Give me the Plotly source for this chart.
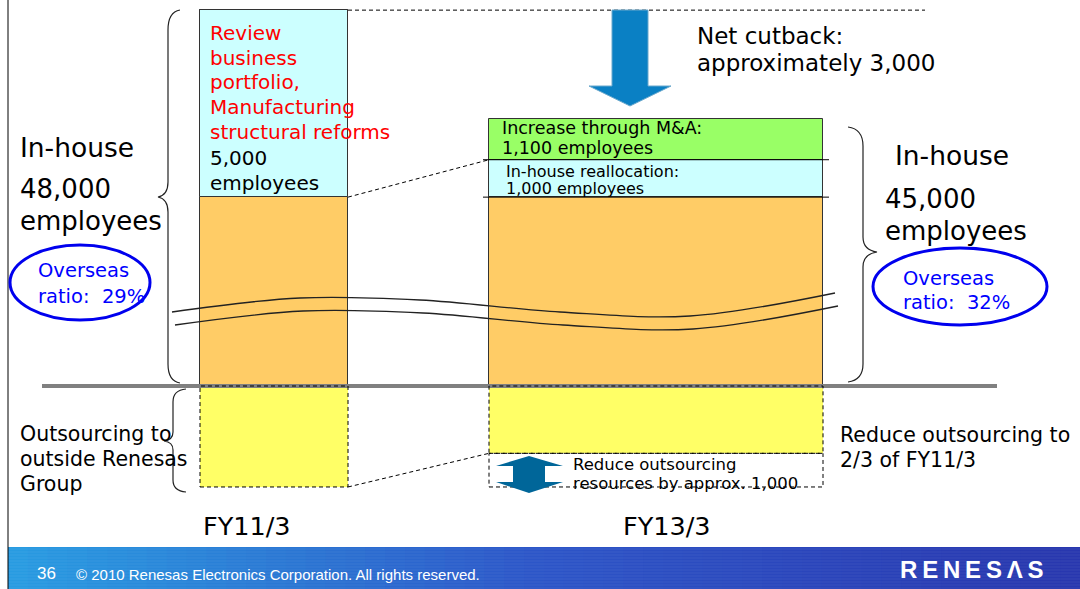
import plotly.graph_objects as go

# ---------------- data ----------------
categories = ["FY11/3", "FY13/3"]
inhouse_total = [48000, 45000]
retained = [43000, 43000]
portfolio_reform_cut = [5000, 0]
inhouse_reallocation = [0, 1000]
ma_increase = [0, 1100]
outsourcing = [2700, 1800]
outsourcing_cut = [0, 900]
overseas_ratio = [29, 32]
net_cutback = 3000

# ---------------- layout constants ----------------
W, H = 1080, 589
AXIS_BREAK = 37950          # employees hidden in the broken axis (wavy lines)
PX_PER_EMP = 0.0374         # vertical scale of the employee axis
BASE_PX = 386               # pixel row of the zero line
bar_centers = [274, 656]
bar_widths = [148, 334]
FONT = "DejaVu Sans"
DASH = "4px,3px"

C_ORANGE = "#FFCC66"
C_CYAN = "#CCFFFF"
C_GREEN = "#99FF66"
C_YELLOW = "#FFFF66"

y2_range = [-(H - BASE_PX) / PX_PER_EMP, BASE_PX / PX_PER_EMP]
def px_to_y2(py):
    return (BASE_PX - py) / PX_PER_EMP

retained_disp = [r - AXIS_BREAK for r in retained]
cyan_vals = [a + b for a, b in zip(portfolio_reform_cut, inhouse_reallocation)]
cyan_base = retained_disp
green_base = [a + b for a, b in zip(retained_disp, cyan_vals)]
tops = [a + b for a, b in zip(green_base, ma_increase)]

fig = go.Figure()

def bar(vals, base, color, line_color="black", lw=1):
    fig.add_trace(go.Bar(
        x=bar_centers, y=vals, base=base, width=bar_widths,
        marker=dict(color=color, line=dict(color=line_color, width=lw)),
        yaxis="y2", xaxis="x", showlegend=False, hoverinfo="skip"))

bar(retained_disp, [0, 0], C_ORANGE, "#333333", 1)
bar(cyan_vals, cyan_base, C_CYAN, "#333333", 1)
bar(ma_increase, green_base, C_GREEN, "#333333", 1)
bar(outsourcing, [-v for v in outsourcing], C_YELLOW, C_YELLOW, 0)

# wavy axis-break lines (decoration), drawn above the bars
wx = [172, 300, 420, 560, 690, 835]
wy = [312, 298, 300, 312, 316, 293]
for dx, dy in [(0, 0), (3, 13)]:
    fig.add_trace(go.Scatter(x=[v + dx for v in wx], y=[px_to_y2(v + dy) for v in wy],
                             mode="lines", line=dict(color="#222", width=1.3, shape="spline"),
                             xaxis="x", yaxis="y2", showlegend=False, hoverinfo="skip"))

shapes = []
# footer gradient
n = 54
c0 = (40, 155, 225)
c1 = (45, 85, 200)
c2 = (40, 55, 175)
for i in range(n):
    t = i / (n - 1)
    if t < 0.5:
        u = t / 0.5
        c = [int(c0[k] + (c1[k] - c0[k]) * u) for k in range(3)]
    else:
        u = (t - 0.5) / 0.5
        c = [int(c1[k] + (c2[k] - c1[k]) * u) for k in range(3)]
    x0 = 8 + (W - 8) * i / n
    x1 = 8 + (W - 8) * (i + 1) / n + 1
    shapes.append(dict(type="rect", xref="x", yref="y", x0=x0, x1=x1, y0=547, y1=H,
                       fillcolor=f"rgb({c[0]},{c[1]},{c[2]})", line=dict(width=0), layer="below"))
for yy in range(549, H, 3):
    shapes.append(dict(type="line", xref="x", yref="y", x0=8, x1=W, y0=yy, y1=yy,
                       line=dict(color="rgba(255,255,255,0.07)", width=1)))
# slide left border
shapes.append(dict(type="line", xref="x", yref="y", x0=8, x1=8, y0=0, y1=H,
                   line=dict(color="black", width=1)))
# baseline
shapes.append(dict(type="line", xref="x", yref="y2", x0=42, x1=997, y0=0, y1=0,
                   line=dict(color="#808080", width=4)))

def edges(i):
    return bar_centers[i] - bar_widths[i] / 2, bar_centers[i] + bar_widths[i] / 2

# dashed outlines for outsourcing
for i in range(2):
    x0, x1 = edges(i)
    shapes.append(dict(type="rect", xref="x", yref="y2", x0=x0, x1=x1, y0=-outsourcing[i], y1=0,
                       line=dict(color="black", width=1, dash=DASH)))
x0b, x1b = edges(1)
shapes.append(dict(type="rect", xref="x", yref="y2", x0=x0b, x1=x1b,
                   y0=-outsourcing[1] - outsourcing_cut[1], y1=-outsourcing[1],
                   line=dict(color="black", width=1, dash=DASH)))
# dashed connectors
x1a = edges(0)[1]
shapes.append(dict(type="line", xref="x", yref="y2", x0=x1a, x1=925, y0=tops[0], y1=tops[0],
                   line=dict(color="black", width=1, dash=DASH)))
shapes.append(dict(type="line", xref="x", yref="y2", x0=x1a, x1=x0b, y0=retained_disp[0],
                   y1=green_base[1], line=dict(color="black", width=1, dash=DASH)))
shapes.append(dict(type="line", xref="x", yref="y2", x0=x1a, x1=x0b, y0=-outsourcing[0],
                   y1=-outsourcing[1], line=dict(color="black", width=1, dash=DASH)))
# segment separator lines on bar 2
for yv in [green_base[1], retained_disp[1]]:
    shapes.append(dict(type="line", xref="x", yref="y2", x0=x0b - 6, x1=x1b + 6, y0=yv, y1=yv,
                       line=dict(color="black", width=1)))

# arrows
shapes.append(dict(type="path", xref="x", yref="y",
                   path="M612,10 L648,10 L648,86 L671,86 L630,106 L589,86 L612,86 Z",
                   fillcolor="#0A80C4", line=dict(color="#6aa8cc", width=1)))
shapes.append(dict(type="path", xref="x", yref="y",
                   path="M529,456 L563,466 L545,466 L545,482 L563,482 L529,493 L496,482 L513,482 L513,466 L496,466 Z",
                   fillcolor="#006699", line=dict(width=0)))

# braces
brace_line = dict(color="#222", width=1.2)
shapes.append(dict(type="path", xref="x", yref="y", line=brace_line,
                   path="M180,10 Q168,12 168,30 L168,182 Q168,195 158,197 Q168,199 168,212 L168,364 Q168,381 180,383"))
shapes.append(dict(type="path", xref="x", yref="y", line=brace_line,
                   path="M848,127 Q863,129 863,146 L863,237 Q863,250 877,252 Q863,254 863,267 L863,364 Q863,380 848,382"))
shapes.append(dict(type="path", xref="x", yref="y", line=brace_line,
                   path="M186,389 Q173,390 173,402 L173,432 Q173,440 164,441 Q173,442 173,450 L173,480 Q173,491 186,492"))
# ellipses
shapes.append(dict(type="circle", xref="x", yref="y", x0=10, x1=150, y0=245, y1=320,
                   line=dict(color="#0000EE", width=3)))
shapes.append(dict(type="circle", xref="x", yref="y", x0=873, x1=1047, y0=248, y1=325,
                   line=dict(color="#0000EE", width=3)))

ann = []
def txt(x, y, s, size, color="black", family=FONT, anchor="left"):
    ann.append(dict(x=x - (2 if anchor == "left" else 0), y=y, xref="x", yref="y", text=s,
                    showarrow=False, xanchor=anchor, yanchor="middle",
                    font=dict(family=family, size=size, color=color)))

# left in-house
txt(20, 147, "In-house", 26.5)
txt(20, 189, f"{inhouse_total[0]:,}", 26)
txt(20, 221, "employees", 26)
# right in-house
txt(895, 155, "In-house", 26.5)
txt(885, 199, f"{inhouse_total[1]:,}", 26)
txt(885, 231, "employees", 26)
# red reform text
for y, s in zip([33, 58, 82, 107, 132],
                ["Review", "business", "portfolio,", "Manufacturing", "structural reforms"]):
    txt(210, y, s, 20, "#FF0000")
txt(210, 158, f"{portfolio_reform_cut[0]:,}", 20)
txt(210, 183, "employees", 20)
# net cutback
txt(697, 36, "Net cutback:", 23)
txt(697, 63, f"approximately {net_cutback:,}", 23)
# bar 2 segments
txt(502, 128, "Increase through M&A:", 17.5)
txt(502, 148, f"{ma_increase[1]:,} employees", 17.5)
txt(506, 171, "In-house reallocation:", 16)
txt(506, 188, f"{inhouse_reallocation[1]:,} employees", 16)
# overseas ratios
txt(38, 270, "Overseas", 19.5, "#0000FF")
txt(38, 296, f"ratio:  {overseas_ratio[0]}%", 19.5, "#0000FF")
txt(903, 278, "Overseas", 19.5, "#0000FF")
txt(903, 302, f"ratio:  {overseas_ratio[1]}%", 19.5, "#0000FF")
# outsourcing
txt(20, 434, "Outsourcing to", 20.5)
txt(20, 459, "outside Renesas", 20.5)
txt(20, 484, "Group", 20.5)
txt(840, 435, "Reduce outsourcing to", 20.5)
txt(840, 460, "2/3 of FY11/3", 20.5)
txt(573, 464, "Reduce outsourcing", 16.5)
txt(573, 483, "resources by approx. 1,000", 16.5)
# categories
txt(247, 526, categories[0], 25.5, anchor="center")
txt(667, 526, categories[1], 25.5, anchor="center")
# footer
txt(37, 573, "36", 17, "white", "Liberation Sans")
txt(76, 574, "© 2010 Renesas Electronics Corporation. All rights reserved.", 15, "white", "Liberation Sans")
ts = "\u2009"
ann.append(dict(x=972, y=569, xref="x", yref="y", text="<b>" + ts.join("RENESΛS") + "</b>",
                showarrow=False, xanchor="center", yanchor="middle",
                font=dict(family="Liberation Sans", size=24, color="white")))

fig.update_layout(
    width=W, height=H, margin=dict(l=0, r=0, t=0, b=0),
    paper_bgcolor="white", plot_bgcolor="white",
    barmode="overlay", bargap=0,
    xaxis=dict(range=[0, W], visible=False, fixedrange=True),
    yaxis=dict(range=[H, 0], visible=False, fixedrange=True),
    yaxis2=dict(range=y2_range, visible=False, overlaying="y", fixedrange=True),
    shapes=shapes, annotations=ann, showlegend=False,
)

fig.write_html("out.html", config={"displayModeBar": False},
               post_script="document.body.style.margin='0';document.body.style.overflow='hidden';")
